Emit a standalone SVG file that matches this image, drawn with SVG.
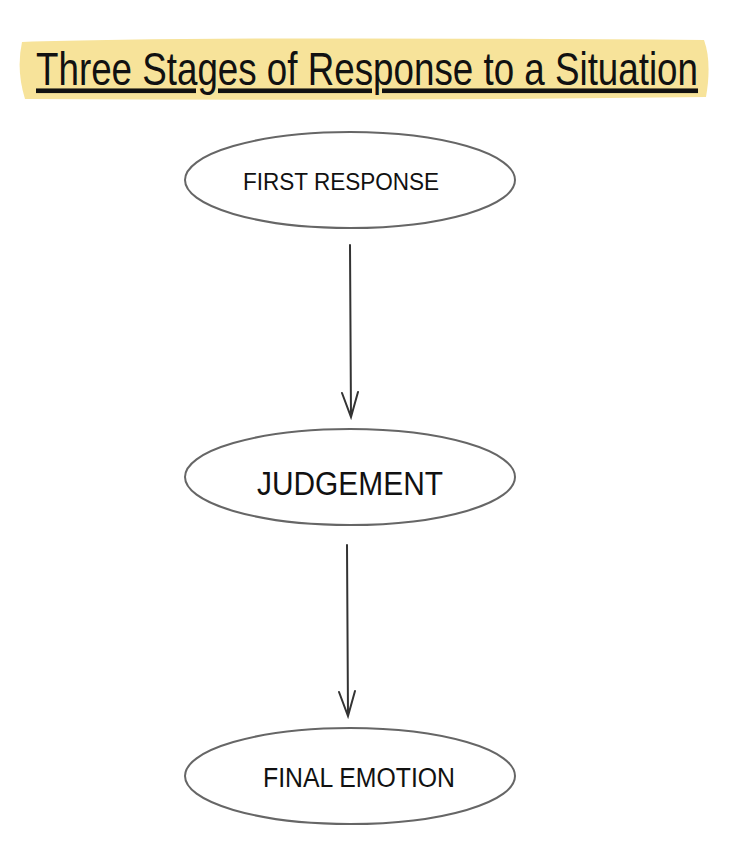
<svg xmlns="http://www.w3.org/2000/svg" width="729" height="852" viewBox="0 0 729 852">
<style>
.node{fill:none;stroke:#666;stroke-width:2}
.lbl{font-family:"Liberation Sans",Arial,sans-serif;fill:#111;text-anchor:middle}
.conn{stroke:#333;stroke-width:2;fill:none;stroke-linecap:round}
</style>
<rect width="729" height="852" fill="#fff"/>
<g id="title">
<path d="M22,42 Q200,36 704,40 Q712,62 706,97 Q400,101 25,99 Q16,70 22,42 Z" fill="#f7e39a"/>
<text transform="translate(367,85) scale(1,1.4)" x="0" y="0" font-family="Liberation Sans,Arial,sans-serif" font-size="33" fill="#111" text-anchor="middle" text-decoration="underline" textLength="662" lengthAdjust="spacingAndGlyphs">Three Stages of Response to a Situation</text>
</g>
<g id="node-first">
<ellipse class="node" cx="350" cy="180" rx="165" ry="48"/>
<text class="lbl" x="341" y="190" font-size="24" textLength="196" lengthAdjust="spacingAndGlyphs">FIRST RESPONSE</text>
</g>
<g id="node-judgement">
<ellipse class="node" cx="350" cy="477" rx="165" ry="48"/>
<text class="lbl" x="350" y="495" font-size="34" textLength="186" lengthAdjust="spacingAndGlyphs">JUDGEMENT</text>
</g>
<g id="node-final">
<ellipse class="node" cx="350" cy="776" rx="165" ry="48"/>
<text class="lbl" x="359" y="787" font-size="27" textLength="192" lengthAdjust="spacingAndGlyphs">FINAL EMOTION</text>
</g>
<g id="connectors">
<path class="conn" d="M350,245 L351,417 M342,393 L351,417 L358,392"/>
<path class="conn" d="M347,545 L348,716 M339,692 L348,716 L355,691"/>
</g>
</svg>
